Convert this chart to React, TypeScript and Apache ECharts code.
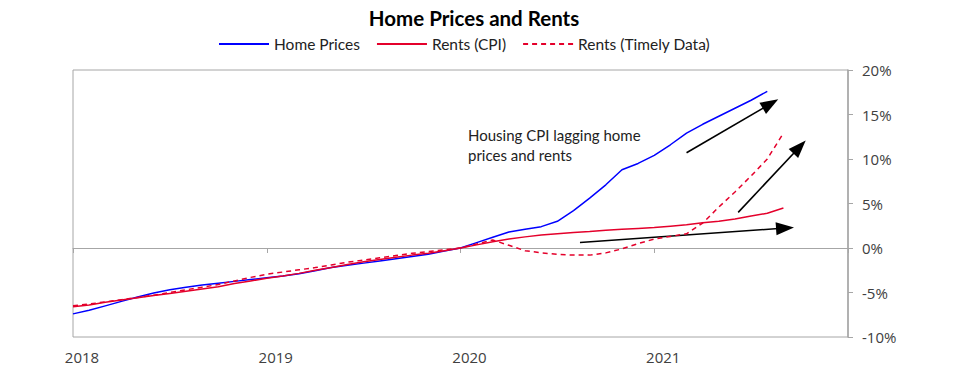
import React, { useEffect, useRef } from "react";
import * as echarts from "echarts";

// Months since Jan 2018 (index = month number)
const startYear = 2018;
const yearLabels = ["2018", "2019", "2020", "2021"];
const yTicks = [-10, -5, 0, 5, 10, 15, 20];

const homePrices = [
  -7.4, -7.0, -6.5, -6.0, -5.5, -5.05, -4.7, -4.4, -4.15, -3.95, -3.75, -3.55,
  -3.35, -3.15, -2.9, -2.55, -2.2, -1.95, -1.7, -1.45, -1.2, -0.95, -0.7, -0.35,
  0.0, 0.6, 1.2, 1.8, 2.1, 2.4, 3.0, 4.2, 5.6, 7.1, 8.8, 9.5,
  10.4, 11.6, 12.9, 13.9, 14.8, 15.7, 16.6, 17.6,
];

const rentsCPI = [
  -6.6, -6.4, -6.1, -5.85, -5.6, -5.35, -5.1, -4.85, -4.6, -4.35, -4.0, -3.7,
  -3.4, -3.15, -2.85, -2.5, -2.2, -1.85, -1.55, -1.3, -1.05, -0.8, -0.6, -0.3,
  0.0, 0.35, 0.7, 1.0, 1.25, 1.45, 1.6, 1.75, 1.85, 2.0, 2.1, 2.2,
  2.3, 2.45, 2.6, 2.85, 3.0, 3.25, 3.6, 3.9, 4.5,
];

const rentsTimely = [
  -6.5, -6.3, -6.05, -5.8, -5.55, -5.3, -5.0, -4.7, -4.4, -4.1, -3.7, -3.3,
  -2.95, -2.7, -2.45, -2.2, -1.9, -1.6, -1.35, -1.1, -0.85, -0.6, -0.4, -0.2,
  0.0, 0.45, 0.9, 0.3, -0.3, -0.55, -0.7, -0.8, -0.8, -0.55, -0.1, 0.5,
  1.0, 1.3, 1.6, 2.8, 4.6, 6.3, 8.1, 10.0, 12.9,
];

// Annotation arrows in data coordinates [month, %]
const arrowHome = [[38.0, 10.7], [43.2, 16.2]];
const arrowTimely = [[41.2, 4.0], [45.0, 11.35]];
const arrowCPI = [[31.4, 0.62], [44.1, 2.24]];

const annotation = "Housing CPI lagging home\nprices and rents";

const toPairs = (arr: number[]) => arr.map((v, i) => [i, v]);

const arrow = (pts: number[][]) => [
  { coord: pts[0], symbol: "none" },
  { coord: pts[1], symbol: "triangle", symbolSize: [13, 18] },
];

export default function App() {
  const ref = useRef<HTMLDivElement>(null);

  useEffect(() => {
    if (!ref.current) return;
    const chart = echarts.init(ref.current, undefined, { renderer: "svg" });
    const axisGray = "#a6a6a6";
    const labelColor = "#404040";
    const red = "#e4002b";

    chart.setOption({
      animation: false,
      backgroundColor: "#ffffff",
      title: {
        text: "Home Prices and Rents",
        left: 474,
        top: 7,
        padding: 0,
        textAlign: "center",
        textStyle: {
          fontFamily: "Lato",
          fontWeight: "bold",
          fontSize: 20.5,
          color: "#000000",
        },
      },
      legend: {
        left: 218,
        top: 36,
        itemWidth: 50,
        itemHeight: 14,
        itemGap: 16,
        padding: 0,
        itemStyle: { opacity: 0 },
        textStyle: { fontFamily: "Lato", fontSize: 15.5, color: "#222222" },
        data: ["Home Prices", "Rents (CPI)", "Rents (Timely Data)"],
      },
      grid: {
        left: 73,
        right: 132,
        top: 70,
        bottom: 46,
        show: true,
        borderColor: axisGray,
        borderWidth: 1,
        outerBoundsMode: "none",
      },
      xAxis: [
        {
          type: "value",
          min: 0,
          max: 48,
          interval: 12,
          position: "bottom",
          axisLine: { show: false, onZero: false },
          axisTick: { show: false },
          splitLine: { show: false },
          axisLabel: {
            margin: 12,
            fontFamily: "Open Sans",
            fontSize: 15,
            color: labelColor,
            padding: [0, 0, 0, 18],
            formatter: (v: number) => yearLabels[Math.round(v / 12)] ?? "",
          },
        },
        {
          type: "value",
          min: 0,
          max: 48,
          interval: 12,
          position: "bottom",
          axisLine: { show: true, onZero: true, lineStyle: { color: axisGray, width: 1 } },
          axisTick: { show: true, inside: false, length: 5, lineStyle: { color: axisGray } },
          axisLabel: { show: false },
          splitLine: { show: false },
        },
      ],
      yAxis: {
        type: "value",
        position: "right",
        min: yTicks[0],
        max: yTicks[yTicks.length - 1],
        interval: 5,
        axisLine: { show: true, onZero: false, lineStyle: { color: axisGray, width: 1.5 } },
        axisTick: { show: true, inside: false, length: 5, lineStyle: { color: axisGray } },
        splitLine: { show: false },
        axisLabel: {
          margin: 14,
          fontFamily: "Open Sans",
          fontSize: 15,
          color: labelColor,
          formatter: "{value}%",
        },
      },
      series: [
        {
          name: "Home Prices",
          type: "line",
          xAxisIndex: 0,
          data: toPairs(homePrices),
          showSymbol: false,
          symbol: "none",
          smooth: false,
          lineStyle: { color: "#0000ff", width: 1.5 },
          itemStyle: { color: "#0000ff" },
          z: 3,
          markLine: {
            silent: true,
            symbol: ["none", "triangle"],
            label: { show: false },
            lineStyle: { color: "#000000", width: 1.6, type: "solid" },
            itemStyle: { color: "#000000" },
            emphasis: { disabled: true },
            data: [arrow(arrowHome), arrow(arrowTimely), arrow(arrowCPI)],
          },
        },
        {
          name: "Rents (CPI)",
          type: "line",
          xAxisIndex: 0,
          data: toPairs(rentsCPI),
          showSymbol: false,
          symbol: "none",
          lineStyle: { color: red, width: 1.5 },
          itemStyle: { color: red },
          z: 4,
        },
        {
          name: "Rents (Timely Data)",
          type: "line",
          xAxisIndex: 0,
          data: toPairs(rentsTimely),
          showSymbol: false,
          symbol: "none",
          lineStyle: { color: red, width: 1.5, type: [5, 4] },
          itemStyle: { color: red },
          z: 5,
        },
      ],
      graphic: [
        {
          type: "text",
          left: 468,
          top: 125,
          style: {
            text: annotation,
            fontFamily: "Lato",
            fontSize: 15,
            lineHeight: 20,
            fill: "#222222",
          },
        },
      ],
    });

    return () => chart.dispose();
  }, []);

  return (
    <div
      ref={ref}
      style={{ position: "fixed", left: 0, top: 0, width: 980, height: 383 }}
    />
  );
}
